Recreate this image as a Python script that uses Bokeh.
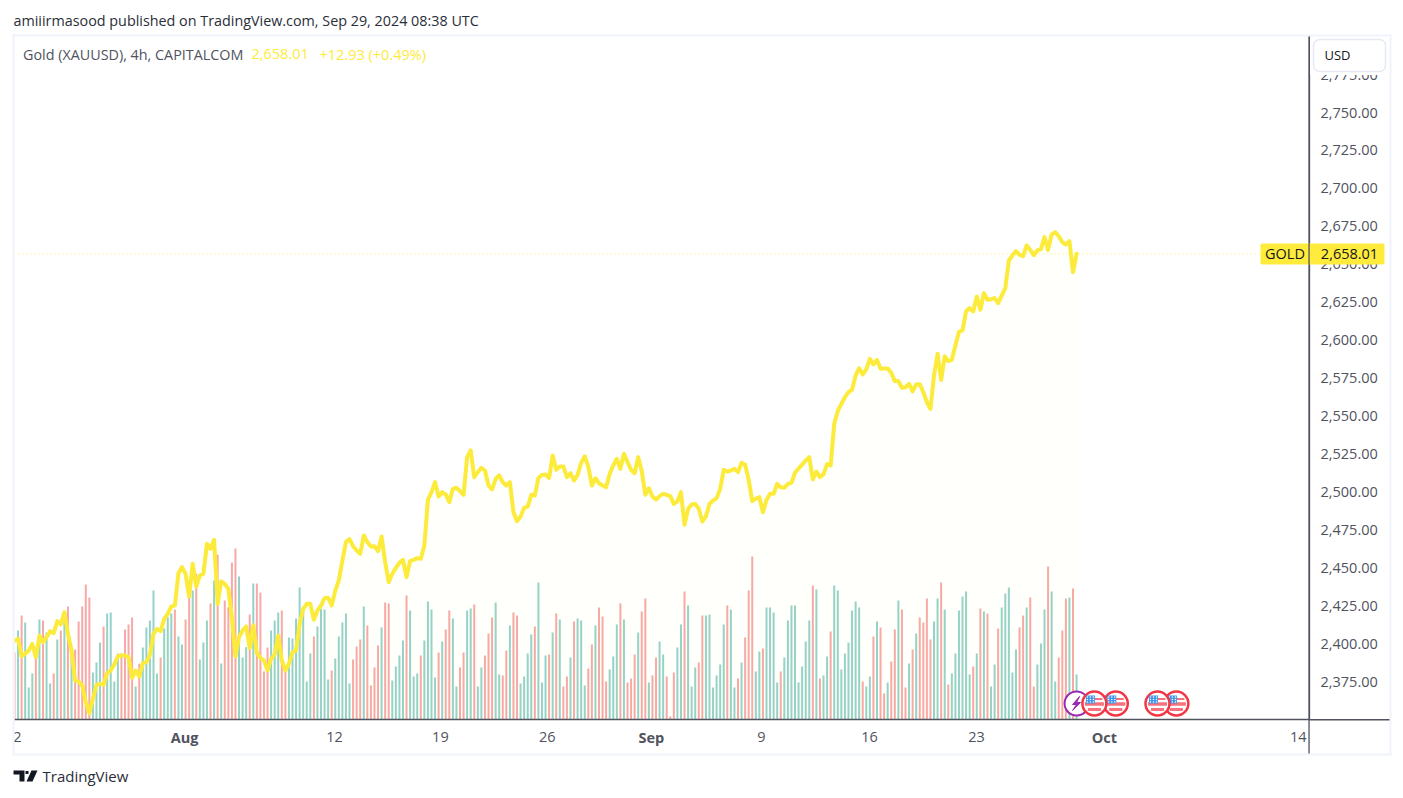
from bokeh.plotting import figure
from bokeh.models import (ColumnDataSource, Range1d, FixedTicker, LinearAxis, Label, BoxAnnotation,
                          Span, NumeralTickFormatter)
from bokeh.embed import file_html
from bokeh.resources import INLINE

volumes = [201,267,312,291,96,138,187,300,297,261,108,138,240,267,297,339,217,210,294,339,405,366,141,171,231,279,318,321,114,198,
198,270,285,306,99,167,216,276,297,387,138,186,273,307,318,330,249,225,300,387,387,437,180,231,297,348,417,495,168,357,
337,471,513,429,186,217,315,408,408,381,144,216,267,297,321,327,147,246,243,303,396,327,114,198,249,279,332,330,120,147,
183,249,291,318,108,180,219,240,
339,282,102,156,222,276,351,348,117,159,192,237,372,327,129,138,192,237,354,330,126,201,234,270,327,303,99,156,201,327,
333,345,99,156,192,258,306,351,135,132,207,282,321,312,108,129,198,255,279,411,111,192,195,261,318,300,99,129,186,294,
303,297,102,153,225,282,336,309,114,150,189,285,348,300,111,123,195,261,324,363,111,132,186,234,195,129,9,141,216,285,
384,342,99,156,171,312,312,315,96,132,165,
285,342,330,96,123,171,246,387,489,144,204,213,336,336,321,111,144,186,297,342,342,111,159,234,297,402,390,123,132,189,
264,402,387,150,198,231,327,354,336,114,99,129,249,294,276,78,111,174,270,357,330,96,168,210,258,306,291,363,240,294,
363,411,330,105,138,198,327,369,384,135,159,198,333,324,318,99,165,273,336,378,396,141,210,276,312,336,366,99,165,228,
330,459,384,114,186,267,363,366,393,135]
bar_colors = ("RGRGGGRGRG" "GRGRGRGRRR" "RRGGGRGGGG" "RRRRGRGGGG" "GRGGGRGGRR" "GRGGGRGRGR" "RRRGGGRGRR" "RRGGGRRGGG"
              "GGGGRGGGGR" "GGGGGRRR"
              "GRRRRGRRGG" "GGRGGGRGGG" "GRGRRGGRRG" "GRGGRRRGGR" "RGRRGGGGRG" "GGRGRGRRGR" "GGGRRGRRRG" "GGRGRRRGRR"
              "GRRGGRRRGG" "RGGGRRGGGGG"
              "GRGGRGRRRG" "GRGGGGRGGG" "GGGGGRGRGG" "RGGGGGGGGR" "GGRGRRGRRG" "RRGRGRRRRG" "GRGRGGGGGG" "RGRGRGGRGG"
              "GGGRRGRRGG" "GRGGRRRGRG")
closes = [2403.1,2404.2,2392.8,2394.4,2396.6,2400.9,2392.2,2406.4,2402.0,2405.3,2409.3,2408.0,2415.9,2413.7,2421.8,2407.5,
2396.6,2376.8,2376.1,2373.5,2362.5,2355.3,2364.7,2373.9,2374.6,2373.9,2381.6,2383.4,2387.3,2392.8,2393.3,2393.3,2392.2,
2378.5,2383.4,2379.4,2388.2,2388.9,2393.9,2407.5,2410.8,2409.3,2417.4,2420.7,2425.6,2426.2,2447.5,2451.5,2447.1,2432.1,
2453.7,2438.7,2446.0,2447.1,2466.9,2463.6,2469.5,2427.3,2442.2,2440.5,2437.2,2418.5,2392.6,2405.3,2409.7,2412.4,2398.3,
2413.2,2394.8,2391.7,2390.0,2383.4,2391.1,2393.9,2406.4,2390.0,2383.4,2387.8,2395.5,2396.6,2414.1,2424.0,2427.3,2427.3,
2416.8,2422.9,2426.2,2431.0,2431.3,2426.2,2436.0,2442.7,2455.9,2468.0,2470.0,2465.3,2462.5,2460.3,2472.3,2468.0,2465.1,
2465.3,2462.0,2471.7,2454.8,2441.6,2447.1,2451.0,2454.3,2456.3,2444.9,2455.4,2456.3,2457.4,2457.0,2465.8,2495.9,2500.9,
2507.5,2498.0,2500.9,2499.4,2494.3,2503.1,2503.8,2501.6,2499.2,2524.0,2528.4,2510.8,2514.1,2517.0,2515.2,2505.3,2502.7,
2509.7,2511.9,2507.5,2505.3,2507.5,2487.7,2481.8,2484.9,2490.6,2491.4,2499.2,2498.7,2510.3,2512.3,2512.5,2510.3,2525.1,
2515.6,2517.8,2517.8,2510.8,2513.4,2508.6,2512.3,2520.2,2524.6,2517.8,2505.3,2510.1,2506.8,2505.3,2504.2,2513.0,2518.5,
2522.9,2516.3,2526.2,2520.7,2515.6,2513.4,2524.0,2514.8,2499.2,2503.5,2498.0,2496.1,2498.3,2499.8,2499.2,2498.3,2493.2,
2494.8,2500.9,2479.4,2489.9,2492.8,2493.2,2490.0,2481.6,2484.9,2493.2,2495.4,2497.0,2503.1,2515.6,2514.5,2515.2,2516.3,
2514.1,2520.2,2519.1,2509.0,2495.0,2496.7,2497.6,2487.7,2495.8,2499.8,2499.8,2506.4,2504.2,2503.8,2506.4,2507.1,2513.7,
2516.5,2519.1,2521.8,2524.0,2509.3,2514.5,2510.8,2512.8,2519.4,2518.5,2546.0,2554.3,2559.1,2563.5,2566.8,2568.4,2577.8,
2582.6,2578.5,2581.8,2588.8,2585.1,2588.1,2582.2,2582.4,2582.4,2579.6,2574.1,2574.1,2569.7,2570.1,2572.3,2567.3,2571.9,
2572.1,2566.8,2560.2,2555.8,2577.8,2592.1,2574.9,2590.5,2587.3,2588.1,2597.6,2606.6,2607.5,2620.2,2622.2,2620.0,2629.9,
2621.1,2632.1,2627.7,2628.1,2628.8,2625.5,2630.5,2635.4,2653.6,2656.9,2659.8,2657.3,2656.5,2663.5,2660.6,2657.1,2660.2,
2661.1,2669.0,2660.6,2670.7,2672.3,2669.6,2665.7,2664.1,2666.3,2645.9,2658.01]
price_ticks = [2375 + 25 * k for k in range(17)]
date_ticks = [0.8, 89.8, 119.5, 149.5, 209.6, 239.9, 269.9, 360.2]
date_labels = ["2", "12", "19", "26", "9", "16", "23", "14"]
month_ticks = [47.7, 178.7, 305.8]
month_labels = ["Aug", "Sep", "Oct"]
flag_events = [303, 309, 320.7, 326]
flash_event = 298

W, H = 1403, 798
FL, FR, FT, FB = 14, 1309, 36, 719     # frame edges in page pixels
X_PER_BAR = 3.564
Y_PER_USD = 1.5173
y_at_frame_bottom = 2658.01 - (FB - 253.3) / Y_PER_USD
y_at_frame_top = 2658.01 + (253.3 - FT) / Y_PER_USD
LABEL_LIFT = 1.7 / Y_PER_USD           # the price labels sit a little above their level

FONT = "Open Sans"
AXIS_TEXT = "#50535e"
AXIS_LINE = "#50535e"
n = len(closes)
assert len(volumes) == n and len(bar_colors) == n, (len(volumes), len(bar_colors), n)
idx = list(range(n))

# ------------------------------------------------ the chart
p = figure(width=W, height=H, output_backend="svg", toolbar_location=None,
           x_range=Range1d(0, (FR - FL) / X_PER_BAR),
           y_range=Range1d(y_at_frame_bottom, y_at_frame_top),
           x_axis_type=None, y_axis_type=None,
           min_border_left=FL, min_border_right=W - FR, min_border_top=FT, min_border_bottom=H - FB,
           styles={"position": "absolute", "left": "0", "top": "0"})
p.extra_y_ranges = {"labels": Range1d(y_at_frame_bottom - LABEL_LIFT, y_at_frame_top - LABEL_LIFT)}
p.outline_line_color = None
p.background_fill_color = "white"
p.border_fill_color = "white"
p.grid.visible = False

vol_scale = (1 / 3) / Y_PER_USD
src = ColumnDataSource(dict(
    x=idx,
    top=[y_at_frame_bottom + v * vol_scale for v in volumes],
    bottom=[y_at_frame_bottom] * n,
    color=["#f7a9a7" if c == "R" else "#94d2c9" for c in bar_colors],
))
p.vbar(x="x", top="top", bottom="bottom", width=2 / X_PER_BAR, fill_color="color", line_color=None, source=src)

p.varea(x=idx, y1=[y_at_frame_bottom] * n, y2=closes, fill_color="#ffeb3b", fill_alpha=0.02)
p.line(idx, closes, line_color="#fdeb3b", line_width=4, line_join="round", line_cap="round")

p.add_layout(Span(location=2658.01, dimension="width", line_color="#ffeb3b", line_width=1,
                  line_dash="1 3", line_alpha=0.8))

xa = LinearAxis(ticker=FixedTicker(ticks=date_ticks),
                major_label_overrides=dict(zip(date_ticks, date_labels)))
ya = LinearAxis(y_range_name="labels", ticker=FixedTicker(ticks=price_ticks),
                formatter=NumeralTickFormatter(format="0,0.00"))
for ax in (xa, ya):
    ax.axis_line_color = AXIS_LINE
    ax.axis_line_width = 1.3
    ax.major_tick_line_color = None
    ax.minor_tick_line_color = None
    ax.major_tick_in = 0
    ax.major_tick_out = 0
    ax.minor_tick_in = 0
    ax.minor_tick_out = 0
    ax.major_label_text_color = AXIS_TEXT
    ax.major_label_text_font = FONT
    ax.major_label_text_font_size = "14.5px"
xa.major_label_standoff = 12
ya.major_label_standoff = 11
p.add_layout(xa, "below")
p.add_layout(ya, "right")

# event markers
y_mark = 2658.01 + (253.3 - 703) / Y_PER_USD
dx = 1 / X_PER_BAR
dy = 1 / Y_PER_USD
p.scatter([flash_event], [y_mark], size=24, marker="circle", fill_color="white", line_color="#9c27b0", line_width=2)
bolt_x = [3, -4, 0, -4, 4, 0]
bolt_y = [7, -1, -1, -7, 1, 1]
p.patch([flash_event + v * dx for v in bolt_x], [y_mark + v * dy for v in bolt_y], color="#9c27b0")
for ev in [flag_events[1], flag_events[0], flag_events[3], flag_events[2]]:
    p.scatter([ev], [y_mark], size=24, marker="circle", fill_color="white", line_color="#f23645", line_width=2.5)
    p.rect([ev], [y_mark - 0.5 * dy], width=19 * dx, height=3.5 * dy, color="#f7727c", line_color=None)
    p.rect([ev + 3.5 * dx], [y_mark + 4.5 * dy], width=9 * dx, height=2 * dy, color="#f7727c", line_color=None)
    p.rect([ev], [y_mark - 6 * dy], width=13 * dx, height=3 * dy, color="#f7727c", line_color=None)
    p.rect([ev - 4 * dx], [y_mark + 4 * dy], width=9 * dx, height=8 * dy, color="#3c94ea", line_color=None)
    p.scatter([ev + a * dx for a in (-7, -4, -1) for _ in range(3)],
              [y_mark + b * dy for _ in range(3) for b in (1.5, 4, 6.5)],
              size=1.6, marker="circle", color="white", line_color=None)

# ------------------------------------------------ page furniture drawn above the chart
o = figure(width=W, height=H, output_backend="svg", toolbar_location=None,
           x_range=Range1d(0, W), y_range=Range1d(0, H), x_axis_type=None, y_axis_type=None,
           min_border=0, min_border_left=0, min_border_right=0, min_border_top=0, min_border_bottom=0,
           styles={"position": "absolute", "left": "0", "top": "0", "pointer-events": "none"})
o.outline_line_color = None
o.background_fill_color = None
o.border_fill_color = None
o.grid.visible = False


def box(l, r, t, b, **kw):
    kw.setdefault("line_color", None)
    kw.setdefault("fill_alpha", 1)
    o.add_layout(BoxAnnotation(left=l, right=r, top=H - t, bottom=H - b, **kw))


def label(px, py, text, **kw):
    kw.setdefault("text_font", FONT)
    kw.setdefault("text_font_size", "14.5px")
    kw.setdefault("text_baseline", "middle")
    o.add_layout(Label(x=px, y=H - py, text=text, **kw))


BORDER = "#f0f3fa"
box(1309.5, 1389, 36, 74.5, fill_color="white")
box(12, 14, 34, 755, fill_color=BORDER)
box(12, 1391, 34, 36, fill_color=BORDER)
box(1389, 1391, 34, 755, fill_color=BORDER)
box(12, 1391, 753, 755, fill_color=BORDER)
box(1307.9, 1309.2, 36, 753, fill_color=AXIS_LINE)
box(1309, 1389, 718.6, 719.9, fill_color=AXIS_LINE)

box(1313, 1385, 39, 71, fill_color="white", line_color="#e6e9f2", line_width=1.5, line_alpha=1, border_radius=6)
label(1337, 54, "USD", text_align="center", text_color="#131722", text_font_size="13px")

box(1260, 1384, 243, 264, fill_color="#ffeb3b", border_radius=2)
box(1307.9, 1309.2, 243, 264, fill_color=AXIS_LINE)
label(1284.5, 253, "GOLD", text_align="center", text_color="#131722")
label(1349, 253, "2,658.01", text_align="center", text_color="#131722")

label(13, 19.5, "amiiirmasood published on TradingView.com, Sep 29, 2024 08:38 UTC", text_color="#2a2e39",
      text_font_size="14.35px")
label(22.5, 53.5, "Gold (XAUUSD), 4h, CAPITALCOM", text_color=AXIS_TEXT, text_font_size="14.35px")
label(251, 53.5, "2,658.01", text_color="#fdeb3b")
label(319, 53.5, "+12.93 (+0.49%)", text_color="#fdeb3b")
label(42, 775.5, "TradingView", text_color="#2a2e39", text_font_size="15px")

for t, s in zip(month_ticks, month_labels):
    label(FL + t * X_PER_BAR, 736.5, s, text_align="center", text_color=AXIS_TEXT, text_font_style="bold")

for xs, ys in [([13, 24, 24, 19, 19, 13], [770, 770, 781, 781, 774, 774]),
               ([31, 37, 32, 26], [770, 770, 781, 781]),
               ([25, 28, 28, 25], [770.5, 770.5, 773.5, 773.5])]:
    o.patch(xs, [H - v for v in ys], fill_color="#131722", line_color=None)

open("out.html", "w").write(file_html([p, o], INLINE))
